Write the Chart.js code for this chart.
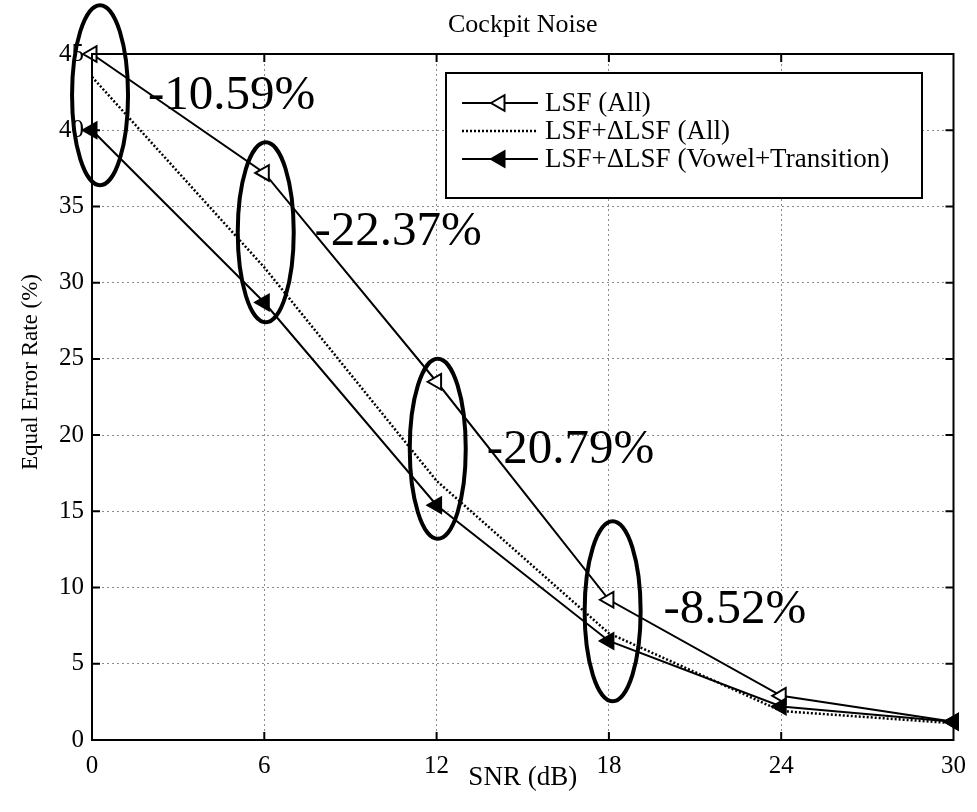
<!DOCTYPE html>
<html>
<head>
<meta charset="utf-8">
<script src="https://cdn.jsdelivr.net/npm/chart.js@4.4.1/dist/chart.umd.min.js"></script>
<style>
  body { margin: 0; background: #fff; }
  #wrap { width: 977px; height: 812px; }
</style>
</head>
<body>
<div id="wrap"><canvas id="chart-eer"></canvas></div>
<script>
// data
const snr = [0, 6, 12, 18, 24, 30]
const lsfAll = [45.0, 37.2, 23.5, 9.2, 2.9, 1.2]
const lsfDeltaAll = [43.5, 31.0, 17.0, 7.0, 1.9, 1.1]
const lsfDeltaVT = [40.0, 28.7, 15.4, 6.5, 2.2, 1.2]
const seriesNames = ['LSF (All)', 'LSF+\u0394LSF (All)', 'LSF+\u0394LSF (Vowel+Transition)']
const yTicks = [0, 5, 10, 15, 20, 25, 30, 35, 40, 45]
const xTicks = [0, 6, 12, 18, 24, 30]

// annotations: ellipse centres and change labels (data units)
const ringX = [0.28, 6.05, 12.04, 18.13]
const ringY = [42.3, 33.3, 19.1, 8.45]
const changeText = ['-10.59%', '-22.37%', '-20.79%', '-8.52%']
const changeX = [1.95, 7.75, 13.75, 19.9]
const changeY = [41.4, 32.5, 18.2, 7.67]

const serif = "'Liberation Serif', 'Times New Roman', serif"

const points = (ys) => snr.map((x, i) => ({ x: x, y: ys[i] }))

const matlabLook = {
	id: 'matlabLook',
	afterDatasetsDraw(chart) {
		const ctx = chart.ctx
		const a = chart.chartArea
		const xs = chart.scales.x
		const ys = chart.scales.y
		ctx.save()

		// title over the axes
		ctx.fillStyle = '#000'
		ctx.font = '26px ' + serif
		ctx.textAlign = 'center'
		ctx.textBaseline = 'middle'
		ctx.fillText('Cockpit Noise', (a.left + a.right) / 2, 25)

		// ellipses
		ctx.strokeStyle = '#000'
		ctx.lineWidth = 4
		ringX.forEach((v, i) => {
			ctx.beginPath()
			ctx.ellipse(xs.getPixelForValue(v), ys.getPixelForValue(ringY[i]), 28, 90, 0, 0, Math.PI * 2)
			ctx.stroke()
		})

		// change labels
		ctx.font = '49px ' + serif
		ctx.textAlign = 'left'
		ctx.textBaseline = 'alphabetic'
		changeText.forEach((t, i) => {
			ctx.fillText(t, xs.getPixelForValue(changeX[i]), ys.getPixelForValue(changeY[i]))
		})

		// axes box + inward ticks
		ctx.lineWidth = 2
		ctx.strokeRect(a.left, a.top, a.right - a.left, a.bottom - a.top)
		ctx.beginPath()
		xTicks.slice(1, -1).forEach(v => {
			const px = xs.getPixelForValue(v)
			ctx.moveTo(px, a.bottom); ctx.lineTo(px, a.bottom - 8)
			ctx.moveTo(px, a.top); ctx.lineTo(px, a.top + 8)
		})
		yTicks.slice(1, -1).forEach(v => {
			const py = ys.getPixelForValue(v)
			ctx.moveTo(a.left, py); ctx.lineTo(a.left + 8, py)
			ctx.moveTo(a.right, py); ctx.lineTo(a.right - 8, py)
		})
		ctx.stroke()

		// y axis title
		ctx.save()
		ctx.translate(31, 372)
		ctx.rotate(-Math.PI / 2)
		ctx.font = '23px ' + serif
		ctx.textAlign = 'center'
		ctx.textBaseline = 'middle'
		ctx.fillText('Equal Error Rate (%)', 0, 0)
		ctx.restore()

		// legend box
		const lx = 446, ly = 73, lw = 476, lh = 125
		ctx.fillStyle = '#fff'
		ctx.fillRect(lx, ly, lw, lh)
		ctx.strokeStyle = '#000'
		ctx.lineWidth = 2
		ctx.strokeRect(lx, ly, lw, lh)
		ctx.font = '27px ' + serif
		ctx.textBaseline = 'middle'
		chart.data.datasets.forEach((ds, i) => {
			const cy = ly + 30 + i * 28
			ctx.save()
			ctx.strokeStyle = '#000'
			ctx.lineWidth = ds.borderWidth
			ctx.setLineDash(ds.borderDash || [])
			ctx.beginPath()
			ctx.moveTo(lx + 16, cy)
			ctx.lineTo(lx + 92, cy)
			ctx.stroke()
			ctx.restore()
			if (ds.pointRadius > 0) {
				ctx.save()
				ctx.fillStyle = ds.pointBackgroundColor
				ctx.strokeStyle = '#000'
				ctx.lineWidth = ds.pointBorderWidth
				Chart.helpers.drawPoint(ctx, { pointStyle: 'triangle', radius: ds.pointRadius, rotation: ds.pointRotation, borderWidth: ds.pointBorderWidth }, lx + 54, cy)
				ctx.restore()
			}
			ctx.fillStyle = '#000'
			ctx.fillText(seriesNames[i], lx + 99, cy + 1)
		})
		ctx.restore()
	}
}

const chartEer = new Chart(document.getElementById('chart-eer'), {
	type: 'line',
	data: {
		datasets: [
			{
				label: seriesNames[0],
				data: points(lsfAll),
				order: 2,
				borderColor: '#000',
				borderWidth: 2,
				pointStyle: 'triangle',
				pointRotation: -90,
				pointRadius: 9,
				pointBorderWidth: 2,
				pointBorderColor: '#000',
				pointBackgroundColor: '#fff',
				tension: 0
			},
			{
				label: seriesNames[1],
				data: points(lsfDeltaAll),
				order: 1,
				borderColor: '#000',
				borderWidth: 2.5,
				borderDash: [2, 2],
				pointRadius: 0,
				tension: 0
			},
			{
				label: seriesNames[2],
				data: points(lsfDeltaVT),
				order: 0,
				borderColor: '#000',
				borderWidth: 2,
				pointStyle: 'triangle',
				pointRotation: -90,
				pointRadius: 9,
				pointBorderWidth: 2,
				pointBorderColor: '#000',
				pointBackgroundColor: '#000',
				tension: 0
			}
		]
	},
	options: {
		responsive: true,
		maintainAspectRatio: false,
		animation: false,
		events: [],
		clip: false,
		layout: { padding: { left: 0, right: 17, top: 54, bottom: 0 } },
		scales: {
			x: {
				type: 'linear',
				min: 0,
				max: 30,
				afterFit: (s) => { s.height = 72 },
				afterBuildTicks: (s) => { s.ticks = xTicks.map(v => ({ value: v })) },
				border: { display: false, dash: [2, 3] },
				grid: { color: '#8a8a8a', lineWidth: 1, drawTicks: false },
				ticks: { color: '#000', padding: 11, maxRotation: 0, font: { family: serif, size: 25 } },
				title: { display: true, text: 'SNR (dB)', color: '#000', font: { family: serif, size: 27 }, padding: { top: 0, bottom: 18 } }
			},
			y: {
				min: 0,
				max: 45,
				afterFit: (s) => { s.width = 92 },
				afterBuildTicks: (s) => { s.ticks = yTicks.map(v => ({ value: v })) },
				border: { display: false, dash: [2, 3] },
				grid: { color: '#8a8a8a', lineWidth: 1, drawTicks: false },
				ticks: { color: '#000', padding: 8, font: { family: serif, size: 25 } }
			}
		},
		plugins: {
			legend: { display: false },
			tooltip: { enabled: false },
			title: { display: false }
		}
	},
	plugins: [matlabLook]
})
</script>
</body>
</html>
